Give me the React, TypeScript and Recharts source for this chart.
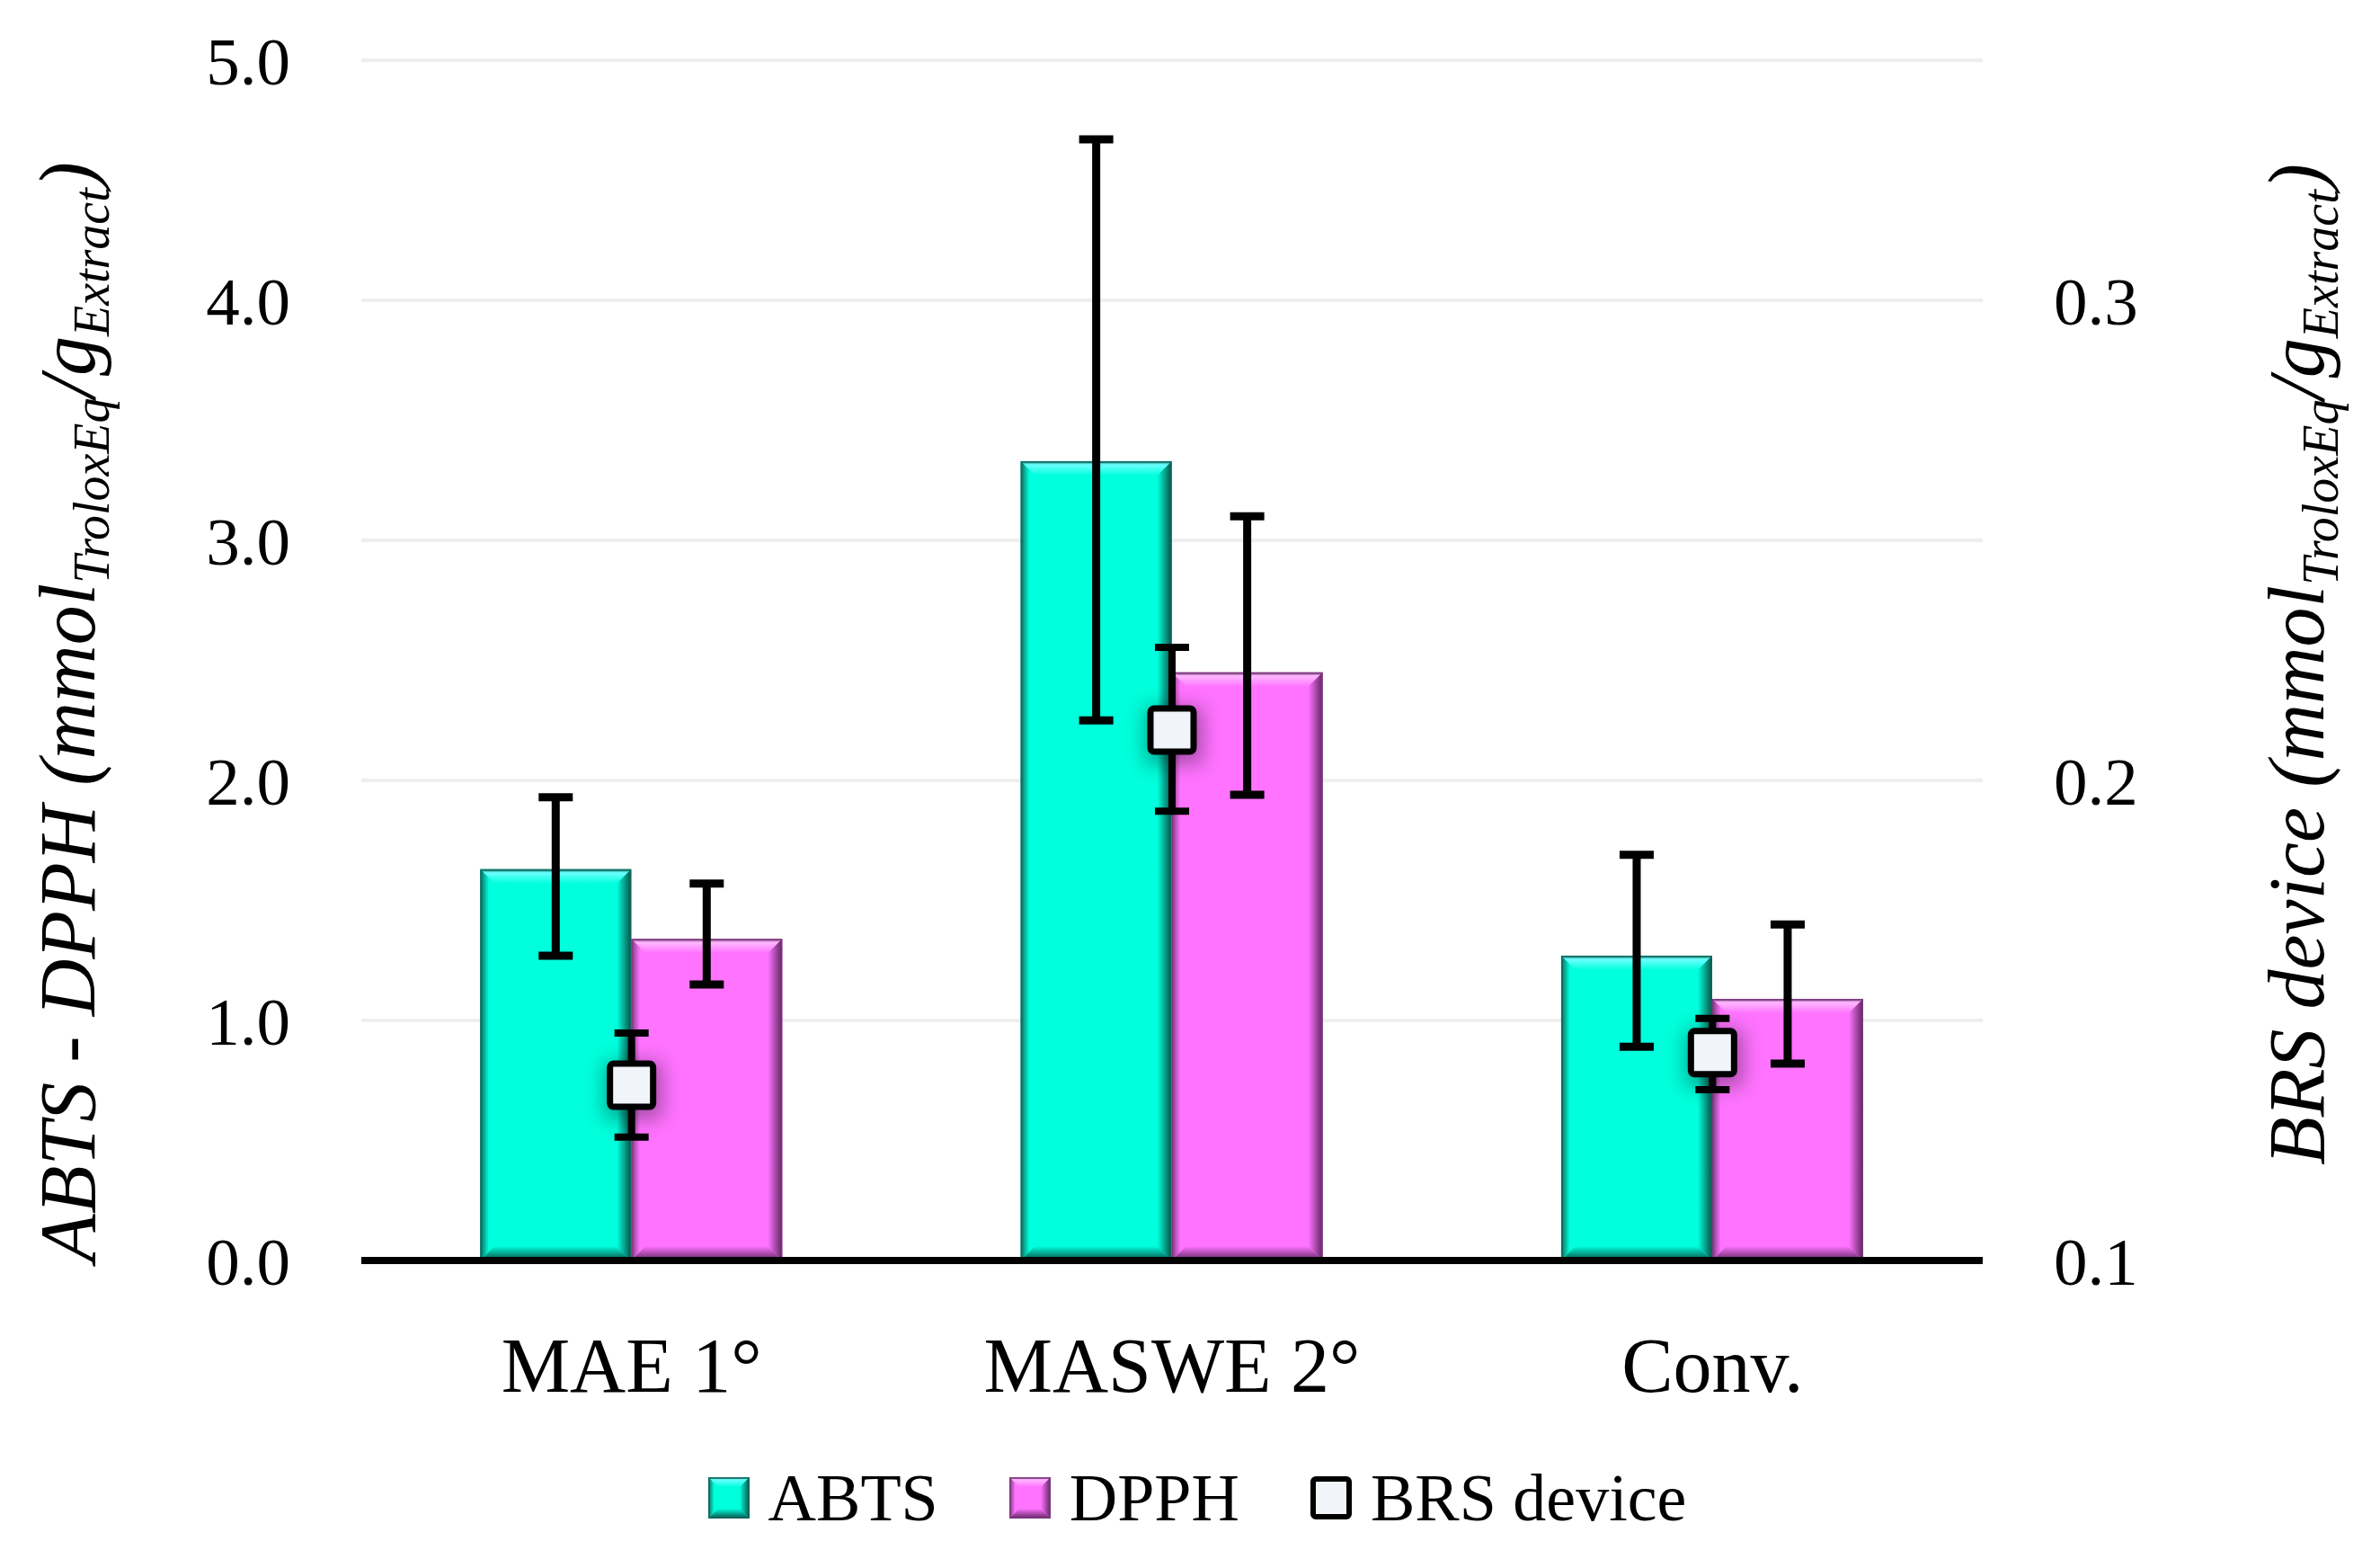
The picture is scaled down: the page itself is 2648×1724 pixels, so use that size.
import React from 'react';
import {
  ComposedChart,
  Bar,
  Line,
  XAxis,
  YAxis,
  CartesianGrid,
  ErrorBar,
  Legend,
  Label,
} from 'recharts';

// ---- data ----
const categories = ['MAE 1°', 'MASWE 2°', 'Conv.'];
const abtsValues = [1.63, 3.33, 1.27];
const abtsErrors = [
  [0.36, 0.3],
  [1.08, 1.34],
  [0.38, 0.42],
];
const dpphValues = [1.34, 2.45, 1.09];
const dpphErrors = [
  [0.19, 0.23],
  [0.51, 0.65],
  [0.27, 0.31],
];
const brsValues = [0.1365, 0.2105, 0.1433];
const brsErrors = [
  [0.0108, 0.0109],
  [0.0169, 0.0172],
  [0.0077, 0.0071],
];
const leftTicks = [0, 1, 2, 3, 4, 5];
const rightTicks = [0.1, 0.2, 0.3];
const seriesNames = { abts: 'ABTS', dpph: 'DPPH', brs: 'BRS device' };
const legendOrder = ['abts', 'dpph', 'brs'];

const data = categories.map((name, i) => ({
  name,
  abts: abtsValues[i],
  abtsErr: abtsErrors[i],
  dpph: dpphValues[i],
  dpphErr: dpphErrors[i],
  brs: brsValues[i],
  brsErr: brsErrors[i],
}));

const FONT = '"Liberation Serif", "Times New Roman", serif';

const PALETTES: Record<string, any> = {
  abts: { base: '#00FFDC', light: '#6BFFFF', dark: '#0A4F46', edge: '#11685C' },
  dpph: { base: '#FF73FF', light: '#FFB8FF', dark: '#5E2460', edge: '#7A3A7C' },
};

function Bevel({ x, y, width: w, height: h, pal, id, b }: any) {
  if (w == null || h == null || h <= 0) return null;
  const t = `${id}-t`;
  const r = `${id}-r`;
  const l = `${id}-l`;
  const bo = `${id}-b`;
  return (
    <g>
      <defs>
        <linearGradient id={t} x1="0" y1="0" x2="0" y2="1">
          <stop offset="0" stopColor={pal.edge} />
          <stop offset="0.25" stopColor={pal.light} />
          <stop offset="1" stopColor={pal.base} />
        </linearGradient>
        <linearGradient id={r} x1="1" y1="0" x2="0" y2="0">
          <stop offset="0" stopColor={pal.dark} />
          <stop offset="1" stopColor={pal.base} />
        </linearGradient>
        <linearGradient id={l} x1="0" y1="0" x2="1" y2="0">
          <stop offset="0" stopColor={pal.edge} />
          <stop offset="0.6" stopColor={pal.base} />
          <stop offset="1" stopColor={pal.base} />
        </linearGradient>
        <linearGradient id={bo} x1="0" y1="1" x2="0" y2="0">
          <stop offset="0" stopColor={pal.dark} />
          <stop offset="1" stopColor={pal.base} />
        </linearGradient>
      </defs>
      <rect x={x} y={y} width={w} height={h} fill={pal.base} />
      <polygon points={`${x},${y} ${x + w},${y} ${x + w - b},${y + b} ${x + b},${y + b}`} fill={`url(#${t})`} />
      <polygon points={`${x + w},${y} ${x + w},${y + h} ${x + w - b},${y + h - b} ${x + w - b},${y + b}`} fill={`url(#${r})`} />
      <polygon points={`${x},${y} ${x + b},${y + b} ${x + b},${y + h - b} ${x},${y + h}`} fill={`url(#${l})`} />
      <polygon points={`${x},${y + h} ${x + b},${y + h - b} ${x + w - b},${y + h - b} ${x + w},${y + h}`} fill={`url(#${bo})`} />
      <rect x={x + 1} y={y + 1} width={w - 2} height={h - 2} fill="none" stroke={pal.edge} strokeWidth={2} strokeOpacity={0.7} />
    </g>
  );
}

const makeBarShape = (key: string) => (props: any) => (
  <Bevel {...props} pal={PALETTES[key]} id={`bar-${key}-${props.index}`} b={16} />
);

function SquareDot(props: any) {
  const { cx, cy, index } = props;
  if (cx == null || cy == null) return null;
  const s = 55;
  const fid = `brs-shadow-${index}`;
  return (
    <g>
      <defs>
        <filter id={fid} x="-100%" y="-100%" width="300%" height="300%">
          <feGaussianBlur stdDeviation="11" />
        </filter>
      </defs>
      <rect x={cx - s / 2 - 2} y={cy - s / 2 + 2} width={s + 8} height={s + 8} fill="#000" opacity={0.35} filter={`url(#${fid})`} />
      <rect
        x={cx - s / 2 + 3.5}
        y={cy - s / 2 + 3.5}
        width={s - 7}
        height={s - 7}
        rx={4}
        fill="#F1F5F9"
        stroke="#000"
        strokeWidth={7}
      />
    </g>
  );
}

function XTick(props: any) {
  const { x, y, payload } = props;
  return (
    <text x={x} y={y + 146} textAnchor="middle" fontFamily={FONT} fontSize={86} fill="#000">
      {payload.value}
    </text>
  );
}

function LeftTitle() {
  return (
    <text transform="translate(105,792) rotate(-90)" textAnchor="middle" fontFamily={FONT} fontStyle="italic" fontSize={88} fill="#000">
      <tspan>ABTS - DPPH (mmol</tspan>
      <tspan fontSize={56} dy={16}>TroloxEq</tspan>
      <tspan dy={-16}>/g</tspan>
      <tspan fontSize={56} dy={16}>Extract</tspan>
      <tspan dy={-16}>)</tspan>
    </text>
  );
}

function RightTitle() {
  return (
    <text transform="translate(2585,739) rotate(-90)" textAnchor="middle" fontFamily={FONT} fontStyle="italic" fontSize={88} fill="#000">
      <tspan>BRS device (mmol</tspan>
      <tspan fontSize={56} dy={16}>TroloxEq</tspan>
      <tspan dy={-16}>/g</tspan>
      <tspan fontSize={56} dy={16}>Extract</tspan>
      <tspan dy={-16}>)</tspan>
    </text>
  );
}

function LegendIcon({ k }: { k: string }) {
  if (k === 'brs') {
    return (
      <svg width={46} height={48} style={{ display: 'block' }}>
        <rect x={3} y={3} width={40} height={42} rx={3} fill="#F1F5F9" stroke="#000" strokeWidth={6} />
      </svg>
    );
  }
  return (
    <svg width={46} height={46} style={{ display: 'block' }}>
      <Bevel x={0} y={0} width={46} height={46} pal={PALETTES[k]} id={`leg-${k}`} b={11} />
    </svg>
  );
}

function LegendContent(props: any) {
  const payload = [...(props.payload || [])].sort(
    (a: any, b: any) => legendOrder.indexOf(a.dataKey) - legendOrder.indexOf(b.dataKey)
  );
  return (
    <div
      style={{
        display: 'flex',
        justifyContent: 'center',
        alignItems: 'center',
        width: 2648,
        paddingLeft: 16,
        boxSizing: 'border-box',
        fontFamily: FONT,
        fontSize: 74,
        lineHeight: '80px',
        color: '#000',
      }}
    >
      {payload.map((entry: any, i: number) => (
        <div
          key={entry.dataKey}
          style={{ display: 'flex', alignItems: 'center', marginRight: i < payload.length - 1 ? 79 : 0 }}
        >
          <LegendIcon k={entry.dataKey} />
          <span style={{ marginLeft: 21 }}>{entry.value}</span>
        </div>
      ))}
    </div>
  );
}

export default function App() {
  return (
    <div style={{ position: 'absolute', left: 0, top: 0, width: 2648, height: 1724, background: '#fff' }}>
      <ComposedChart
        width={2648}
        height={1724}
        data={data}
        margin={{ top: 67, right: 0, bottom: 0, left: 0 }}
        barCategoryGap="22%"
        barGap={0}
      >
        <CartesianGrid vertical={false} yAxisId="left" stroke="#EFEFEF" strokeWidth={4} />
        <XAxis
          dataKey="name"
          height={322}
          interval={0}
          axisLine={{ stroke: '#000', strokeWidth: 8 }}
          tickLine={false}
          tickSize={0}
          tickMargin={0}
          tick={<XTick />}
        />
        <YAxis
          yAxisId="left"
          width={402}
          domain={[0, 5]}
          ticks={leftTicks}
          axisLine={false}
          tickLine={false}
          tickSize={0}
          tickMargin={79}
          tickFormatter={(v: number) => v.toFixed(1)}
          tick={{ fontSize: 75, fontFamily: FONT, fill: '#000' }}
        >
          <Label content={() => <LeftTitle />} />
        </YAxis>
        <YAxis
          yAxisId="right"
          orientation="right"
          width={442}
          domain={[0.1, 0.35]}
          ticks={rightTicks}
          axisLine={false}
          tickLine={false}
          tickSize={0}
          tickMargin={79}
          tickFormatter={(v: number) => v.toFixed(1)}
          tick={{ fontSize: 75, fontFamily: FONT, fill: '#000' }}
        >
          <Label content={() => <RightTitle />} />
        </YAxis>
        <Bar
          yAxisId="left"
          dataKey="abts"
          name={seriesNames.abts}
          fill={PALETTES.abts.base}
          shape={makeBarShape('abts')}
          isAnimationActive={false}
        >
          <ErrorBar dataKey="abtsErr" direction="y" width={19} strokeWidth={9} stroke="#000" />
        </Bar>
        <Bar
          yAxisId="left"
          dataKey="dpph"
          name={seriesNames.dpph}
          fill={PALETTES.dpph.base}
          shape={makeBarShape('dpph')}
          isAnimationActive={false}
        >
          <ErrorBar dataKey="dpphErr" direction="y" width={19} strokeWidth={9} stroke="#000" />
        </Bar>
        <Line
          yAxisId="right"
          dataKey="brs"
          name={seriesNames.brs}
          stroke="none"
          strokeWidth={0}
          dot={<SquareDot />}
          activeDot={false}
          legendType="square"
          isAnimationActive={false}
        >
          <ErrorBar dataKey="brsErr" direction="y" width={19} strokeWidth={8} stroke="#000" />
        </Line>
        <Legend
          verticalAlign="middle"
          layout="horizontal"
          content={<LegendContent />}
          wrapperStyle={{ left: 0, top: 1626, width: 2648 }}
        />
      </ComposedChart>
    </div>
  );
}
